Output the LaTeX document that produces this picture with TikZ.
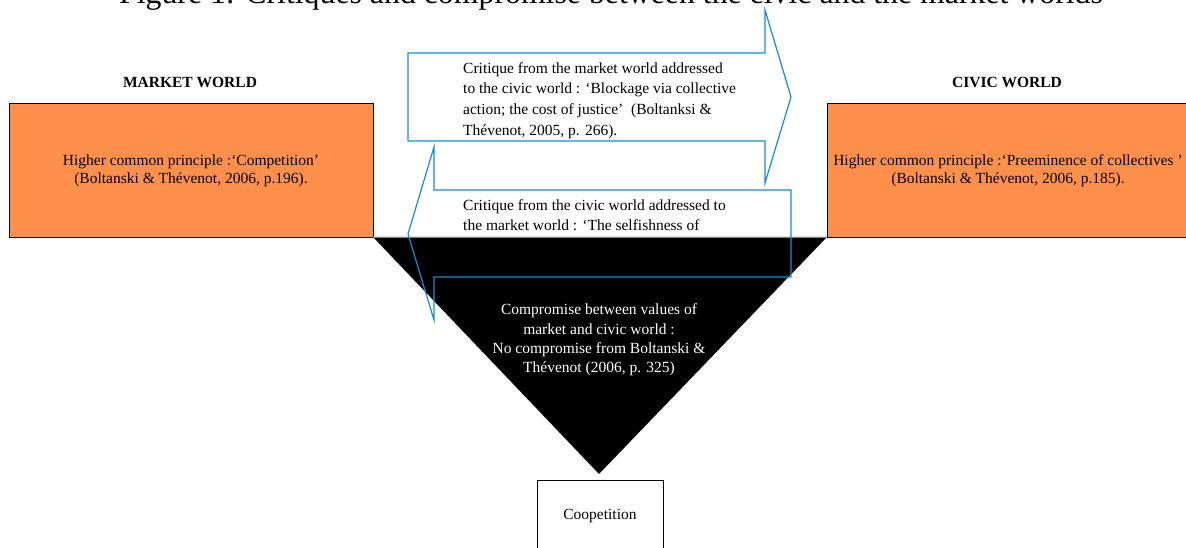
\documentclass[tikz,border=0pt]{standalone}
\usepackage{fontspec}
\setmainfont{Liberation Serif}
\definecolor{worldorange}{RGB}{255,144,76}
\definecolor{arrowblue}{RGB}{20,140,215}
\begin{document}
\begin{tikzpicture}[x=1pt,y=-1pt,
  worldbox/.style={draw=black, line width=0.9pt, fill=worldorange, inner sep=0pt},
  boxtext/.style={font=\fontsize{15.5}{18}\selectfont, align=center, inner sep=0pt},
  arrowtext/.style={font=\fontsize{15.5}{20.7}\selectfont, align=left, inner sep=0pt, anchor=west},
  headlabel/.style={font=\fontsize{15.5}{18}\selectfont\bfseries, inner sep=0pt},
  critarrow/.style={draw=arrowblue, line width=1.2pt, line join=miter},
  plainbox/.style={draw=black, line width=0.9pt, fill=white, inner sep=0pt}]
\useasboundingbox (0,0) rectangle (1186,548);

% title (cut at the top)
\node[font=\fontsize{31.8}{38}\selectfont, anchor=base, inner sep=0pt] (title) at (611,3.5)
  {Figure 1: Critiques and compromise between the civic and the market worlds};

% world labels
\node[headlabel] (marketlabel) at (190,82) {MARKET WORLD};
\node[headlabel] (civiclabel) at (1007,82) {CIVIC WORLD};

% world boxes
\node[worldbox, minimum width=364, minimum height=134] (market) at (191,170) {};
\node[boxtext] (markettext) at (191,171) {Higher common principle :‘Competition’\\(Boltanski \& Thévenot, 2006, p.196).};
\node[worldbox, minimum width=363, minimum height=134] (civic) at (1008.5,170) {};
\node[boxtext] (civictext) at (1008,171) {Higher common principle :‘Preeminence of collectives ’\\(Boltanski \& Thévenot, 2006, p.185).};

% left (civic -> market) critique arrow: fill and text first
\fill[white] (791,190) -- (434,190) -- (434,147) -- (408,234) -- (434,320) -- (434,277) -- (791,277) -- cycle;
\node[arrowtext, font=\fontsize{15.5}{20}\selectfont] (civiccrit) at (463,215)
  {Critique from the civic world addressed to\\the market world : ‘The selfishness of};

% compromise triangle
\fill[black] (373,237) coordinate (tl) -- (827,237) coordinate (tr) -- (599,474) coordinate (apex) -- cycle;
\draw[gray, line width=0.8pt] (tl) -- (tr);
\node[boxtext, text=white, font=\fontsize{15.5}{19.4}\selectfont] (compromise) at (599,340)
  {Compromise between values of\\market and civic world :\\No compromise from Boltanski \&\\Thévenot (2006, p. 325)};

% left arrow outline on top
\draw[critarrow] (791,190) -- (434,190) -- (434,147) -- (408,234) -- (434,320) -- (434,277) -- (791,277) -- cycle;

% right (market -> civic) critique arrow
\filldraw[critarrow, fill=white] (408,53) -- (765,53) -- (765,10) -- (791,97) -- (765,183) -- (765,141) -- (408,141) -- cycle;
\node[arrowtext] (marketcrit) at (463,100.5)
  {Critique from the market world addressed\\to the civic world : ‘Blockage via collective\\action; the cost of justice’\ \ (Boltanksi \&\\Thévenot, 2005, p. 266).};

% coopetition box
\node[plainbox, minimum width=126, minimum height=72] (coop) at (600,516) {};
\node[boxtext] (cooptext) at (600,516) {Coopetition};
\end{tikzpicture}
\end{document}
